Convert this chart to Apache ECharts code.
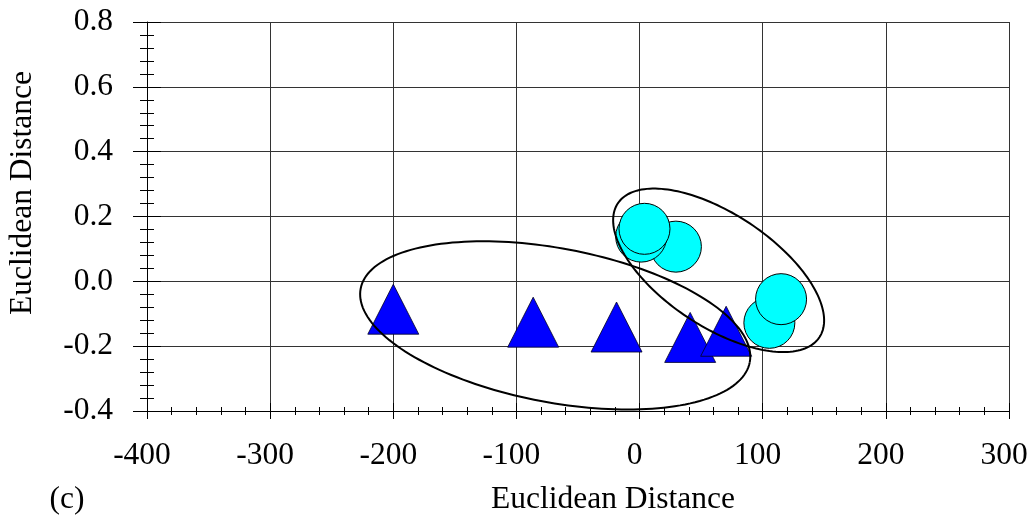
<!DOCTYPE html>
<html>
<head>
<meta charset="utf-8">
<script src="https://cdn.jsdelivr.net/npm/echarts@6/dist/echarts.min.js"></script>
<style>html,body{margin:0;padding:0;background:#fff;}#c{width:1035px;height:519px;}</style>
</head>
<body>
<div id="c"></div>
<script>
// ---- data ----
const xTicks = [-400, -300, -200, -100, 0, 100, 200, 300];
const yTicks = [-0.4, -0.2, 0.0, 0.2, 0.4, 0.6, 0.8];
const triangleX = [-200, -86.4, -18.7, 41.1, 70.3];
const triangleY = [-0.086, -0.126, -0.141, -0.173, -0.154];
const circleX = [29.5, 1.3, 4.0, 105.4, 114.9];
const circleY = [0.107, 0.138, 0.162, -0.128, -0.055];
// ellipse annotations: centre (data units), semi-axes (px), tilt (deg clockwise)
const ellipseCX = [-68.5, 64.2];
const ellipseCY = [-0.136, 0.034];
const ellipseA = [198, 121];
const ellipseB = [77, 56.3];
const ellipseTilt = [10.7, 33.6];

const FONT = '"Liberation Serif", "Times New Roman", serif';
const FS = 31.5;

const triData = triangleX.map((x, i) => [x, triangleY[i]]);
const circData = circleX.map((x, i) => [x, circleY[i]]);
const ellData = ellipseCX.map((x, i) => [x, ellipseCY[i], ellipseA[i], ellipseB[i], ellipseTilt[i]]);

const xMin = xTicks[0], xMax = xTicks[xTicks.length - 1], xInt = xTicks[1] - xTicks[0];
const yMin = yTicks[0], yMax = yTicks[yTicks.length - 1], yInt = 0.2;

const chart = echarts.init(document.getElementById('c'), null, {renderer: 'canvas'});

function xAxisDef(inside, main) {
  return {
    type: 'value', min: xMin, max: xMax, interval: xInt, position: 'bottom',
    axisLine: {show: main, onZero: false, lineStyle: {color: '#000', width: 1}},
    axisTick: {show: true, inside: inside, length: 8, lineStyle: {color: '#000', width: 1}},
    minorTick: {show: true, splitNumber: 5, length: 4, lineStyle: {color: '#000', width: 1}},
    axisLabel: {show: main, margin: 29, color: '#000', fontFamily: FONT, fontSize: FS, padding: [0, 10, 0, 0]},
    splitLine: {show: main, lineStyle: {color: '#333', width: 1}},
    minorSplitLine: {show: false}
  };
}
function yAxisDef(inside, main) {
  return {
    type: 'value', min: yMin, max: yMax, interval: yInt, position: 'left',
    axisLine: {show: main, onZero: false, lineStyle: {color: '#000', width: 1}},
    axisTick: {show: true, inside: inside, length: 14, lineStyle: {color: '#000', width: 1}},
    minorTick: {show: true, splitNumber: 5, length: 7, lineStyle: {color: '#000', width: 1}},
    axisLabel: {show: main, margin: 34, color: '#000', fontFamily: FONT, fontSize: FS,
      formatter: v => (Math.abs(v) < 1e-9 ? 0 : v).toFixed(1)},
    splitLine: {show: main, lineStyle: {color: '#333', width: 1}},
    minorSplitLine: {show: false}
  };
}

const option = {
  backgroundColor: '#fff',
  animation: false,
  grid: {left: 147, right: 26, top: 22, bottom: 108, containLabel: false},
  xAxis: [xAxisDef(false, true), xAxisDef(true, false)],
  yAxis: [yAxisDef(false, true), yAxisDef(true, false)],
  series: [
    {
      type: 'scatter', xAxisIndex: 0, yAxisIndex: 0,
      symbol: 'triangle', symbolSize: [51, 50],
      itemStyle: {color: '#0000FF', borderColor: '#000022', borderWidth: 0.8, opacity: 1},
      data: triData, z: 3
    },
    {
      type: 'scatter', xAxisIndex: 0, yAxisIndex: 0,
      symbol: 'circle', symbolSize: 51,
      itemStyle: {color: '#00FFFF', borderColor: '#000', borderWidth: 1, opacity: 1},
      data: circData, z: 3
    },
    {
      type: 'custom', xAxisIndex: 0, yAxisIndex: 0, z: 4,
      data: ellData,
      renderItem: function (params, api) {
        const c = api.coord([api.value(0), api.value(1)]);
        const a = api.value(2), b = api.value(3), t = api.value(4) * Math.PI / 180;
        const pts = [];
        const N = 180;
        for (let k = 0; k <= N; k++) {
          const u = 2 * Math.PI * k / N;
          const ex = a * Math.cos(u), ey = b * Math.sin(u);
          pts.push([c[0] + ex * Math.cos(t) - ey * Math.sin(t),
                    c[1] + ex * Math.sin(t) + ey * Math.cos(t)]);
        }
        return {type: 'polyline', shape: {points: pts},
                style: {fill: null, stroke: '#000', lineWidth: 2}};
      }
    }
  ],
  graphic: [
    {type: 'text', x: 613, y: 500, style: {text: 'Euclidean Distance', font: FS + 'px ' + FONT, fill: '#000', align: 'center', verticalAlign: 'middle'}},
    {type: 'text', x: 67, y: 500, style: {text: '(c)', font: FS + 'px ' + FONT, fill: '#000', align: 'center', verticalAlign: 'middle'}},
    {type: 'text', x: 23, y: 193, rotation: Math.PI / 2, style: {text: 'Euclidean Distance', font: FS + 'px ' + FONT, fill: '#000', align: 'center', verticalAlign: 'middle'}}
  ]
};
chart.setOption(option);
</script>
</body>
</html>
